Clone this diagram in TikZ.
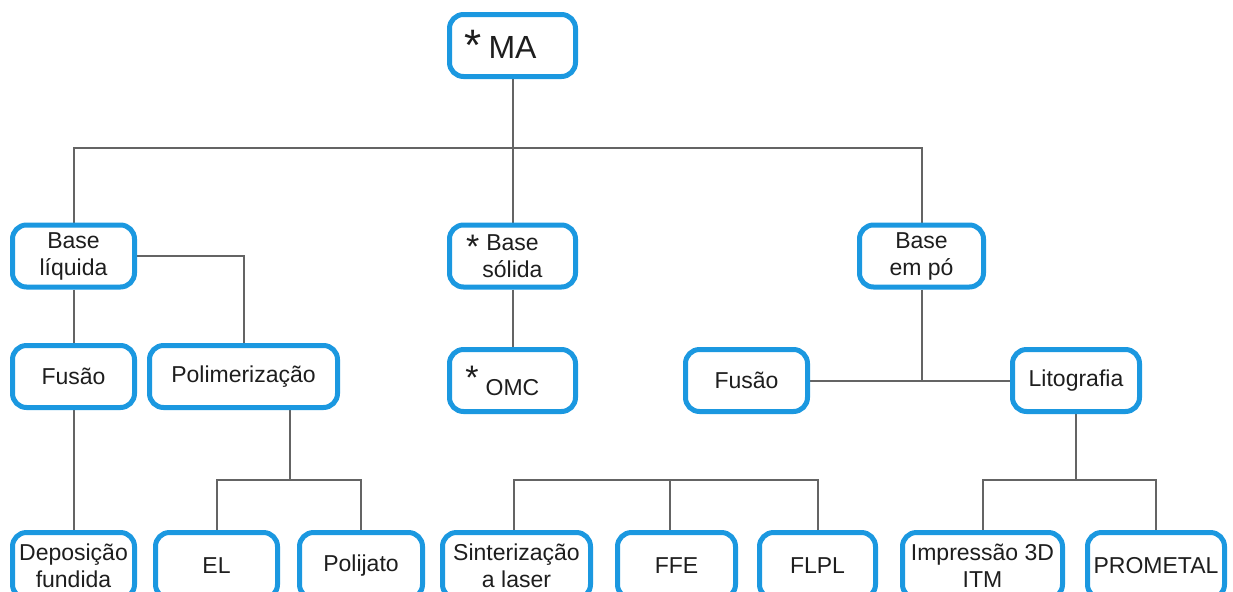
\documentclass[tikz,border=0pt]{standalone}
\usepackage{fontspec}
\setmainfont{Liberation Sans}
\usetikzlibrary{backgrounds}

\definecolor{azulbox}{RGB}{27,152,224}
\definecolor{cinzalinha}{RGB}{100,100,100}
\definecolor{textobox}{RGB}{30,30,30}

% asterisco a esquerda do texto: #1 = deslocamento vertical, #2 = tamanho
\newcommand{\asterisco}[2]{\llap{\raisebox{#1}{\fontsize{#2}{#2}\selectfont *}\hspace{3.5pt}}}

\begin{document}
\begin{tikzpicture}[
    x=0.5pt, y=-0.5pt,
    font=\fontsize{11.5}{13.5}\selectfont,
    every node/.style={align=center, text=textobox},
    caixa/.style={rectangle, draw=azulbox, line width=2.5pt, rounded corners=7pt,
                  fill=white, inner sep=0pt, minimum width=61pt, minimum height=31pt},
    folha/.style={caixa, minimum height=33pt},
    conn/.style={draw=cinzalinha, line width=1pt}
]

\useasboundingbox (0,0) rectangle (1233,591);
\clip (0,0) rectangle (1233,591);

% ----------------------
% Nodes
% ----------------------

% raiz
\node[caixa, minimum width=63pt, font=\fontsize{16}{18}\selectfont] (ma) at (512.5,45.5) {\asterisco{-1pt}{22}MA};

% bases
\node[caixa] (liquida) at (73.5,256) {Base\\líquida};
\node[caixa, minimum width=63pt] (solida) at (512.5,256) {\asterisco{-4pt}{17}Base\\sólida};
\node[caixa, minimum width=62pt] (empo) at (921.5,256) {Base\\em pó};

% segundo nivel
\node[caixa] (fusaoL) at (73.5,376.5) {Fusão};
\node[caixa, minimum width=94pt] (polim) at (243.5,376.5) {Polimerização};
\node[caixa, minimum width=63pt] (omc) at (512.5,380.5) {\asterisco{3pt}{17}OMC};
\node[caixa] (fusaoR) at (746.5,380.5) {Fusão};
\node[caixa, minimum width=63.5pt] (litografia) at (1076,380.5) {Litografia};

% ultima linha (cortada embaixo)
\node[folha] (deposicao) at (73.5,565.5) {Deposição\\fundida};
\node[folha] (el) at (216.5,565.5) {EL};
\node[folha, minimum width=61.5pt] (polijato) at (361,565.5) {Polijato};
\node[folha, minimum width=74pt] (sinter) at (516.5,565.5) {Sinterização\\a laser};
\node[folha, minimum width=59pt] (ffe) at (676.5,565.5) {FFE};
\node[folha, minimum width=58pt] (flpl) at (817.5,565.5) {FLPL};
\node[folha, minimum width=80pt] (impressao) at (982.5,565.5) {Impressão 3D\\ITM};
\node[folha, minimum width=68.5pt] (prometal) at (1156,565.5) {PROMETAL};

% pontos das barras
\coordinate (barra1) at (512.5,148);
\coordinate (barra2) at (290,480);
\coordinate (barra3) at (921.5,380.5);
\coordinate (barra4) at (1076,480);
\coordinate (barra5) at (670,480);

% ----------------------
% Linhas
% ----------------------
\begin{scope}[on background layer]
% MA para as bases
\draw[conn] (ma) -- (solida);
\draw[conn] (liquida.north) |- (barra1) -| (empo.north);

% base liquida
\draw[conn] (liquida) -- (fusaoL);
\draw[conn] (fusaoL) -- (deposicao);
\draw[conn] (liquida.east) -| (polim.north);
\draw[conn] (barra2 |- polim.south) -- (barra2);
\draw[conn] (el.north) |- (barra2) -| (polijato.north);

% base solida
\draw[conn] (solida) -- (omc);

% base em po
\draw[conn] (empo) -- (barra3);
\draw[conn] (fusaoR) -- (litografia);
\draw[conn] (litografia) -- (barra4);
\draw[conn] (impressao.north) |- (barra4) -| (prometal.north);

% barra do meio (sem ligacao acima)
\draw[conn] ([xshift=-1.5pt]sinter.north) |- (barra5) -| (flpl.north);
\draw[conn] (barra5) -- (barra5 |- ffe.north);
\end{scope}

\end{tikzpicture}
\end{document}
